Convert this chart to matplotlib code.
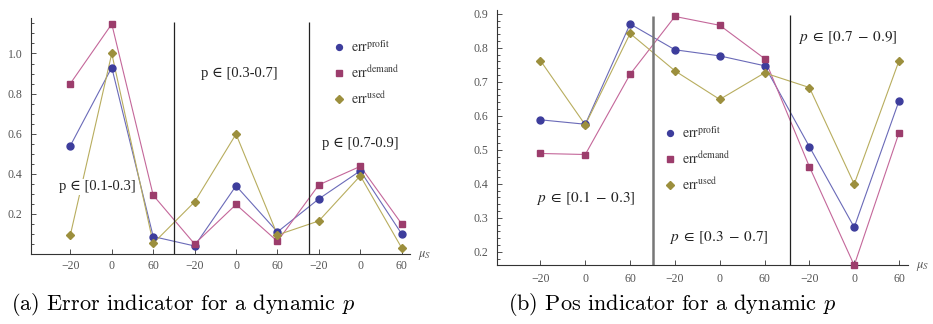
import numpy as np
import matplotlib
matplotlib.use('Agg')
import matplotlib.pyplot as plt
from matplotlib.lines import Line2D
from matplotlib.ticker import MultipleLocator

# mu_S values, repeated for the three p ranges
mu_labels = ['\u221220', '0', '60'] * 3
pos = np.arange(1, 10)

# (a) error indicator
err_profit_a = [0.54, 0.93, 0.087, 0.04, 0.34, 0.11, 0.275, 0.415, 0.10]
err_demand_a = [0.85, 1.147, 0.293, 0.05, 0.247, 0.063, 0.345, 0.437, 0.15]
err_used_a = [0.095, 1.0, 0.053, 0.26, 0.598, 0.095, 0.165, 0.39, 0.03]

# (b) pos indicator
err_profit_b = [0.588, 0.575, 0.87, 0.794, 0.776, 0.747, 0.509, 0.272, 0.644]
err_demand_b = [0.489, 0.486, 0.722, 0.892, 0.866, 0.768, 0.45, 0.16, 0.55]
err_used_b = [0.762, 0.573, 0.842, 0.732, 0.648, 0.726, 0.683, 0.399, 0.762]

series_names = [r'$\mathrm{err}^{\mathrm{profit}}$',
                r'$\mathrm{err}^{\mathrm{demand}}$',
                r'$\mathrm{err}^{\mathrm{used}}$']

marker_cols = ['#3d3d9c', '#9c3d6c', '#9c8f3d']
line_cols = ['#6a6ab8', '#c4679a', '#b8ad5e']
markers = ['o', 's', 'D']
msizes = [5, 5, 4.5]

plt.rcParams['font.family'] = ['Liberation Serif', 'DejaVu Serif']
plt.rcParams['mathtext.fontset'] = 'stix'

W, H = 933, 324
fig = plt.figure(figsize=(W / 100, H / 100), dpi=100)


def px_axes(x0, x1, ytop, ybot):
    return fig.add_axes([x0 / W, 1 - ybot / H, (x1 - x0) / W, (ybot - ytop) / H])


def style(ax, ypad):
    for s in ['top', 'right']:
        ax.spines[s].set_visible(False)
    for s in ['left', 'bottom']:
        ax.spines[s].set_linewidth(0.8)
        ax.spines[s].set_color('#333333')
    ax.set_xticks(pos, mu_labels)
    ax.tick_params(axis='both', which='both', direction='in', colors='#333333',
                   labelcolor='#555555', labelsize=8.5, width=0.6)
    ax.tick_params(axis='both', which='major', length=3.5)
    ax.tick_params(axis='y', which='minor', length=2)
    ax.tick_params(axis='x', pad=ypad)
    ax.tick_params(axis='y', pad=6)
    ax.patch.set_alpha(0)
    ax.annotate(r'$\mu_S$', xy=(1, 0), xycoords='axes fraction', xytext=(6, -1),
                textcoords='offset points', va='center', ha='left',
                fontsize=9, color='#555555')


def draw(ax, data):
    for vals, mc, lc, m, ms in zip(data, marker_cols, line_cols, markers, msizes):
        ax.plot(pos, vals, color=lc, lw=0.8, zorder=2, clip_on=False)
        ax.plot(pos, vals, ls='none', marker=m, ms=ms, color=mc, mec=mc,
                zorder=3, clip_on=False)


def add_legend(ax, x, y):
    handles = [Line2D([], [], ls='none', marker=m, ms=ms * 0.85, color=c)
               for m, ms, c in zip(markers, msizes, marker_cols)]
    ax.legend(handles, series_names, loc='upper left', bbox_to_anchor=(x / W, 1 - y / H),
              bbox_transform=fig.transFigure, frameon=False, fontsize=10,
              handlelength=0.8, handletextpad=0.5, labelspacing=0.7,
              borderpad=0, borderaxespad=0, labelcolor='#333333')


# ---- (a)
ax1 = px_axes(31, 410, 18, 254)
draw(ax1, [err_profit_a, err_demand_a, err_used_a])
ax1.set_xlim(0.05, 9.2)
ax1.set_ylim(0, 1.177)
ax1.set_yticks([0.2, 0.4, 0.6, 0.8, 1.0], ['0.2', '0.4', '0.6', '0.8', '1.0'])
ax1.yaxis.set_minor_locator(MultipleLocator(0.05))
style(ax1, 4)
sep_a = [3.5, 6.77]
ax1.vlines(sep_a, 0, 1.157, color='#222222', lw=0.9)
ax1.text(1.66, 0.336, 'p \u2208 [0.1-0.3]', ha='center', va='center', fontsize=10.5,
         color='#222222', bbox=dict(fc='white', ec='none', pad=1))
ax1.text(5.07, 0.90, 'p \u2208 [0.3-0.7]', ha='center', va='center', fontsize=10.5,
         color='#222222')
ax1.text(8.0, 0.55, 'p \u2208 [0.7-0.9]', ha='center', va='center', fontsize=10.5,
         color='#222222')
add_legend(ax1, 333, 39)

# ---- (b)
ax2 = px_axes(497, 908, 10, 265)
draw(ax2, [err_profit_b, err_demand_b, err_used_b])
ax2.set_xlim(0.03, 9.2)
ax2.set_ylim(0.161, 0.911)
yt = [0.2, 0.3, 0.4, 0.5, 0.6, 0.7, 0.8, 0.9]
ax2.set_yticks(yt, ['%.1f' % v for v in yt])
ax2.yaxis.set_minor_locator(MultipleLocator(0.02))
style(ax2, 6)
ax2.vlines([3.5], 0.161, 0.893, color='#777777', lw=1.8)
ax2.vlines([6.57], 0.161, 0.896, color='#222222', lw=0.9)
ax2.text(2.02, 0.358, r'$p\;\in\;[0.1\;-\;0.3]$', ha='center', va='center', fontsize=11,
         color='#222222')
ax2.text(4.98, 0.243, r'$p\;\in\;[0.3\;-\;0.7]$', ha='center', va='center', fontsize=11,
         color='#222222')
ax2.text(7.85, 0.831, r'$p\;\in\;[0.7\;-\;0.9]$', ha='center', va='center', fontsize=11,
         color='#222222')
add_legend(ax2, 664, 125)

# captions
fig.text(183 / W, 1 - 305 / H, r'(a) Error indicator for a dynamic $p$',
         ha='center', va='center', fontsize=16, family='cmr10', math_fontfamily='cm')
fig.text(672 / W, 1 - 305 / H, r'(b) Pos indicator for a dynamic $p$',
         ha='center', va='center', fontsize=16, family='cmr10', math_fontfamily='cm')

fig.savefig('out.png', dpi=100)
